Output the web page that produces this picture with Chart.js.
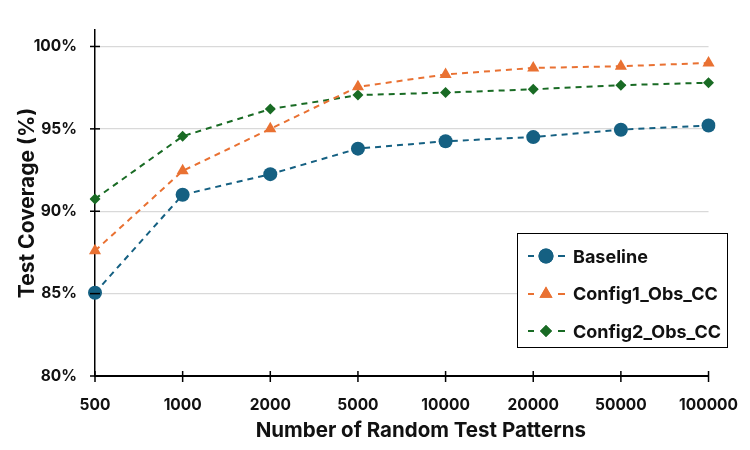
<!DOCTYPE html>
<html>
<head>
<meta charset="utf-8">
<script src="https://cdn.jsdelivr.net/npm/chart.js@4.4.1/dist/chart.umd.min.js"></script>
<style>
  html, body { margin: 0; padding: 0; background: #fff; }
  #wrap { position: relative; width: 750px; height: 450px; }
  #legend {
    position: absolute; left: 517px; top: 233px; width: 209px; height: 113px;
    border: 1.5px solid #000; background: #fff;
    font-family: Inter, "Open Sans", sans-serif; font-weight: bold; font-size: 18px; color: #111;
  }
  .row { position: absolute; left: 7px; height: 24px; display: flex; align-items: center; }
  .row canvas { margin-right: 4px; }
</style>
</head>
<body>
<div id="wrap">
  <canvas id="myChart" width="750" height="450"></canvas>
  <div id="legend"></div>
</div>
<script>
var patterns = ['500', '1000', '2000', '5000', '10000', '20000', '50000', '100000'];
var seriesNames = ['Baseline', 'Config1_Obs_CC', 'Config2_Obs_CC'];
var baseline = [85.05, 91.0, 92.25, 93.8, 94.25, 94.5, 94.95, 95.2];
var config1 = [87.6, 92.45, 95.0, 97.55, 98.3, 98.7, 98.8, 99.0];
var config2 = [90.75, 94.55, 96.2, 97.05, 97.2, 97.4, 97.65, 97.8];
var yTicks = [80, 85, 90, 95, 100];
var xTitle = 'Number of Random Test Patterns';

var colors = ['#156082', '#E97132', '#196B24'];
var shapes = ['circle', 'triangle', 'rectRot'];
var radii = [7, 7, 5.5];
var values = [baseline, config1, config2];

window.onload = function() {
    var ctx = document.getElementById('myChart').getContext('2d');
    var font = 'Inter, "Open Sans", sans-serif';

    var datasets = seriesNames.map(function(name, i) {
        return {
            label: name,
            data: values[i],
            borderColor: colors[i],
            backgroundColor: colors[i],
            borderWidth: 2,
            borderDash: [6, 5],
            pointStyle: shapes[i],
            pointRadius: radii[i],
            pointBorderWidth: 0,
            pointBackgroundColor: colors[i],
            tension: 0
        };
    });

    // tick marks crossing the axis lines, plus the x axis title (sits a bit right of centre)
    var crossTicks = {
        id: 'crossTicks',
        afterDraw: function(chart) {
            var c = chart.ctx, x = chart.scales.x, y = chart.scales.y;
            c.save();
            c.strokeStyle = '#000';
            c.lineWidth = 1.5;
            y.ticks.forEach(function(t, i) {
                var py = y.getPixelForTick(i);
                c.beginPath(); c.moveTo(x.left - 5, py); c.lineTo(x.left + 5, py); c.stroke();
            });
            x.ticks.forEach(function(t, i) {
                var px = x.getPixelForTick(i);
                c.beginPath(); c.moveTo(px, y.bottom - 5); c.lineTo(px, y.bottom + 6); c.stroke();
            });
            c.fillStyle = '#111';
            c.font = 'bold 20.5px ' + font;
            c.textAlign = 'center';
            c.textBaseline = 'middle';
            c.fillText(xTitle, (x.left + x.right) / 2 + 19, x.bottom - 19);
            c.restore();
        }
    };

    var myChart = new Chart(ctx, {
        type: 'line',
        data: { labels: patterns, datasets: datasets },
        plugins: [crossTicks],
        options: {
            responsive: false,
            animation: false,
            layout: { padding: { left: 0, right: 40, top: 30, bottom: 0 } },
            plugins: { legend: { display: false }, tooltip: { enabled: false } },
            scales: {
                x: {
                    offset: false,
                    grid: { display: false },
                    border: { display: true, color: '#000', width: 2 },
                    ticks: { color: '#111', font: { family: font, size: 15.5, weight: 'bold' }, padding: 12, maxRotation: 0 },
                    afterFit: function(s) { s.height = 74; }
                },
                y: {
                    min: 80,
                    max: 101,
                    afterBuildTicks: function(s) { s.ticks = yTicks.map(function(v) { return { value: v }; }); },
                    grid: { color: '#d9d9d9', lineWidth: 1.3, drawTicks: false },
                    border: { display: true, color: '#000', width: 1.5 },
                    ticks: { color: '#111', padding: 18, font: { family: font, size: 15.5, weight: 'bold' },
                             callback: function(v) { return v + '%'; } },
                    title: { display: true, text: 'Test Coverage (%)', color: '#111',
                             font: { family: font, size: 21, weight: 'bold' }, padding: { top: 15, bottom: 0 } },
                    afterFit: function(s) { s.width = 95; }
                }
            }
        }
    });

    // legend inside the plot, built from the datasets
    var legend = document.getElementById('legend');
    seriesNames.forEach(function(name, i) {
        var row = document.createElement('div');
        row.className = 'row';
        row.style.top = (10 + i * 37.5) + 'px';
        var cv = document.createElement('canvas');
        cv.width = 44; cv.height = 24;
        var g = cv.getContext('2d');
        g.strokeStyle = colors[i]; g.lineWidth = 2;
        g.beginPath(); g.moveTo(3, 12); g.lineTo(9, 12); g.moveTo(33, 12); g.lineTo(40, 12); g.stroke();
        g.fillStyle = colors[i];
        Chart.helpers.drawPoint(g, { pointStyle: shapes[i], radius: radii[i] + 0.5, borderWidth: 0 }, 21, 12);
        g.fill();
        row.appendChild(cv);
        var span = document.createElement('span');
        span.textContent = name;
        row.appendChild(span);
        legend.appendChild(row);
    });
}
</script>
</body>
</html>
